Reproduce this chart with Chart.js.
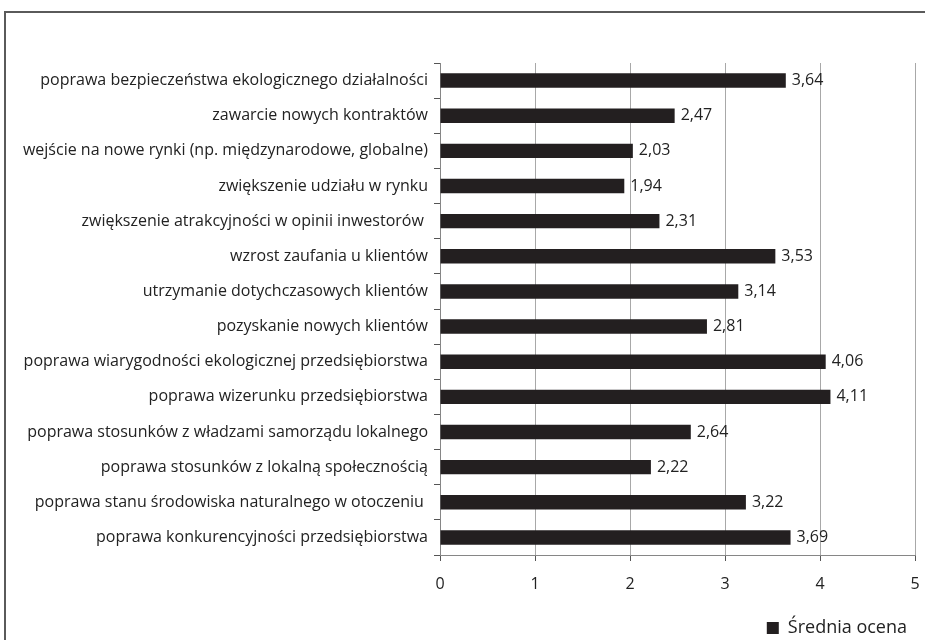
<!DOCTYPE html>
<html>
<head>
<meta charset="utf-8">
<script src="https://cdn.jsdelivr.net/npm/chart.js@4"></script>
<style>
  html, body { margin: 0; background: #fff; overflow: hidden; width: 925px; height: 640px; }
  #frame { position: absolute; left: 4px; top: 11px; width: 921px; height: 629px;
           border-left: 2px solid #5a5a5a; border-top: 2px solid #5a5a5a; box-sizing: border-box; }
  #wrap { position: absolute; left: 0; top: 0; width: 925px; height: 640px; }
</style>
</head>
<body>
<div id="frame"></div>
<div id="wrap"><canvas id="chartOceny"></canvas></div>
<script>
const kategorie = [
  'poprawa bezpieczeństwa ekologicznego działalności',
  'zawarcie nowych kontraktów',
  'wejście na nowe rynki (np. międzynarodowe, globalne)',
  'zwiększenie udziału w rynku',
  'zwiększenie atrakcyjności w opinii inwestorów ',
  'wzrost zaufania u klientów',
  'utrzymanie dotychczasowych klientów',
  'pozyskanie nowych klientów',
  'poprawa wiarygodności ekologicznej przedsiębiorstwa',
  'poprawa wizerunku przedsiębiorstwa',
  'poprawa stosunków z władzami samorządu lokalnego',
  'poprawa stosunków z lokalną społecznością',
  'poprawa stanu środowiska naturalnego w otoczeniu ',
  'poprawa konkurencyjności przedsiębiorstwa'
]
const oceny = [3.64, 2.47, 2.03, 1.94, 2.31, 3.53, 3.14, 2.81, 4.06, 4.11, 2.64, 2.22, 3.22, 3.69]
const osX = [0, 1, 2, 3, 4, 5]

const FONT = '"Open Sans", sans-serif'
const ROZMIAR = 16

// etykiety wartości przy słupkach
const etykiety = {
  id: 'etykiety',
  afterDatasetsDraw(chart) {
    const ctx = chart.ctx
    const meta = chart.getDatasetMeta(0)
    ctx.save()
    ctx.font = ROZMIAR + 'px ' + FONT
    ctx.fillStyle = '#222'
    ctx.textBaseline = 'middle'
    meta.data.forEach((bar, i) => {
      ctx.fillText(oceny[i].toFixed(2).replace('.', ','), bar.x + 6, bar.y)
    })
    ctx.restore()
  }
}

const ctx = document.getElementById('chartOceny').getContext('2d')
new Chart(ctx, {
  type: 'bar',
  data: {
    labels: kategorie,
    datasets: [{
      label: 'Średnia ocena',
      data: oceny,
      backgroundColor: '#231f20',
      barPercentage: 1,
      categoryPercentage: 0.41
    }]
  },
  options: {
    indexAxis: 'y',
    responsive: true,
    maintainAspectRatio: false,
    animation: false,
    layout: { padding: { top: 63, right: 10, bottom: -7, left: 0 } },
    scales: {
      x: {
        min: 0,
        max: 5,
        afterBuildTicks: axis => { axis.ticks = osX.map(v => ({ value: v })) },
        grid: { color: '#a8a8a8', tickLength: 6, tickColor: '#555' },
        border: { color: '#868686', width: 1 },
        ticks: { color: '#222', font: { family: FONT, size: ROZMIAR }, padding: 14 },
        afterFit: axis => { axis.height = 56; axis.paddingRight = 0 }
      },
      y: {
        grid: { drawOnChartArea: false, tickLength: 6, tickColor: '#555', offset: true },
        border: { color: '#868686', width: 1 },
        ticks: { color: '#222', font: { family: FONT, size: ROZMIAR }, padding: 6, autoSkip: false },
        afterFit: axis => { axis.width = 440 }
      }
    },
    plugins: {
      legend: {
        position: 'bottom',
        align: 'end',
        labels: {
          color: '#222',
          font: { family: FONT, size: 18 },
          boxWidth: 12,
          boxHeight: 12,
          padding: 8
        }
      },
      tooltip: { enabled: false }
    }
  },
  plugins: [etykiety]
})
</script>
</body>
</html>
